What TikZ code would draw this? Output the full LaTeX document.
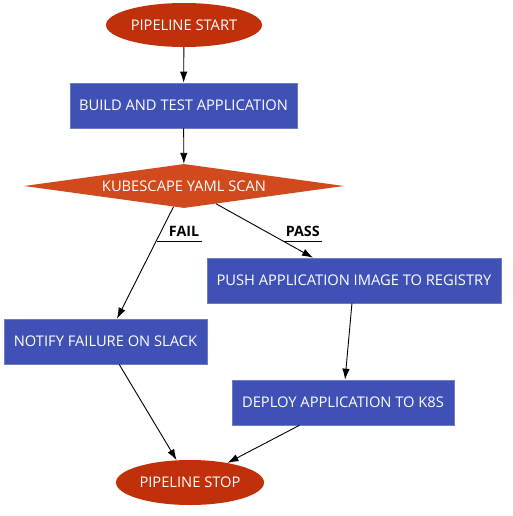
\documentclass[tikz,border=0pt]{standalone}
\usepackage{fontspec}
\setmainfont{Open Sans}
\definecolor{rustred}{RGB}{192,48,10}
\definecolor{scanorange}{RGB}{208,74,30}
\definecolor{indigo}{RGB}{63,81,181}
\definecolor{indigoline}{RGB}{110,124,200}
\usetikzlibrary{arrows.meta, shapes.geometric, positioning}

\begin{document}
\begin{tikzpicture}[
  x=1pt, y=-1pt,
  stagefont/.style={font=\fontsize{14.7}{17}\selectfont},
  taskbox/.style={stagefont, fill=indigo, draw=indigoline, line width=0.6pt,
    text=white, minimum height=45pt, inner sep=0pt},
  terminal/.style={stagefont, ellipse, fill=rustred, text=white,
    inner sep=0pt},
  decision/.style={stagefont, diamond, aspect=7.27, fill=scanorange,
    text=white, inner sep=0pt, minimum width=320pt, minimum height=44pt},
  verdict/.style={font=\bfseries\fontsize{14.3}{17}\selectfont, anchor=south west,
    text depth=0pt, inner ysep=4pt},
  flow/.style={-{Latex[length=11pt,width=7.5pt]}, line width=0.9pt},
]
  \useasboundingbox (0,0) rectangle (512,516);

  % stages
  \node[terminal, minimum width=156pt, minimum height=44pt] (start) at (184,25) {PIPELINE START};
  \node[taskbox, minimum width=227pt] (build) at (183.5,105.5) {BUILD AND TEST APPLICATION};
  \node[decision] (scan) at (184,186) {KUBESCAPE YAML SCAN};
  \node[taskbox, minimum width=294pt] (push) at (354,280.5) {PUSH APPLICATION IMAGE TO REGISTRY};
  \node[taskbox, minimum width=203pt] (notify) at (105.5,341.5) {NOTIFY FAILURE ON SLACK};
  \node[taskbox, minimum width=222pt] (deploy) at (343,402.5) {DEPLOY APPLICATION TO K8S};
  \node[terminal, minimum width=148pt, minimum height=45pt] (stop) at (190,482.5) {PIPELINE STOP};

  % edge labels
  \node[verdict, text width=39pt, align=right, inner xsep=3pt] (faillbl) at (157,241) {FAIL};
  \node[verdict, text width=37pt, align=center, inner xsep=1pt] (passlbl) at (283,241) {PASS};
  \draw[line width=0.6pt] (faillbl.south west) -- (faillbl.south east);
  \draw[line width=0.6pt] (passlbl.south west) -- (passlbl.south east);

  % flow
  \draw[flow] (start) -- (build);
  \draw[flow] (build) -- (scan);
  \draw[flow] (scan) -- (notify);
  \draw[flow] (scan) -- (push);
  \draw[flow] (push) -- (deploy);
  \draw[flow] (notify) -- (stop);
  \draw[flow] (deploy) -- (stop);
\end{tikzpicture}
\end{document}
